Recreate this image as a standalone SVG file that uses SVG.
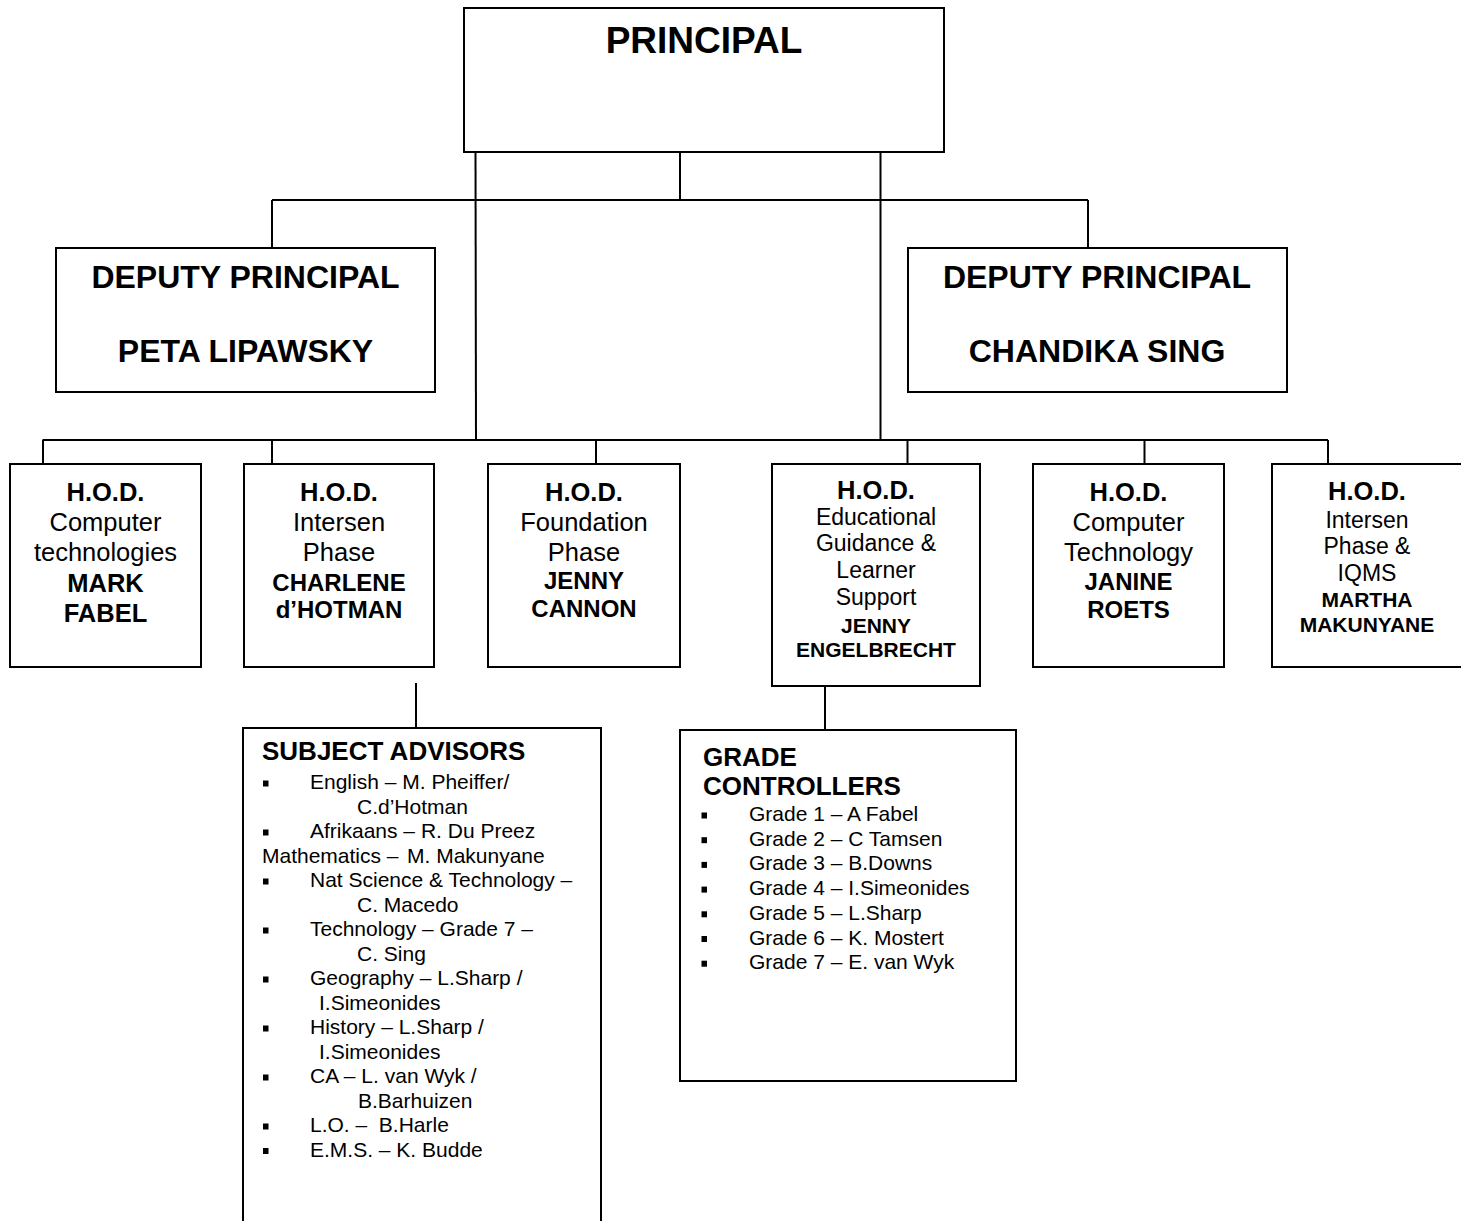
<svg xmlns="http://www.w3.org/2000/svg" width="1461" height="1221" viewBox="0 0 1461 1221">
<style>
  .box { fill: #ffffff; stroke: #000000; stroke-width: 2; }
  .conn line { stroke: #000000; stroke-width: 2; }
  text { font-family: "Liberation Sans", Arial, sans-serif; fill: #000000; }
  .c { text-anchor: middle; }
  .b { font-weight: bold; }
  .top { font-size: 37px; font-weight: bold; }
  .dep { font-size: 32px; font-weight: bold; }
  .h { font-size: 25.5px; }
  .hs { font-size: 23px; }
  .ns { font-size: 21px; }
  .n { font-size: 24px; }
  .title { font-size: 26px; font-weight: bold; }
  .li { font-size: 21px; }
  .bul { fill: #000000; }
</style>
<rect x="0" y="0" width="1461" height="1221" fill="#ffffff"/>

<g id="connectors" class="conn">
  <line x1="680" y1="152" x2="680" y2="200"/>
  <line x1="272" y1="200" x2="1088" y2="200"/>
  <line x1="272" y1="200" x2="272" y2="248"/>
  <line x1="1088" y1="200" x2="1088" y2="248"/>
  <line x1="475.5" y1="152" x2="476" y2="440"/>
  <line x1="880.5" y1="152" x2="880.5" y2="440"/>
  <line x1="42.5" y1="440" x2="1328" y2="440"/>
  <line x1="43" y1="440" x2="43" y2="464"/>
  <line x1="272" y1="440" x2="272" y2="464"/>
  <line x1="596" y1="440" x2="596" y2="464"/>
  <line x1="907.5" y1="440" x2="907.5" y2="464"/>
  <line x1="1144.5" y1="440" x2="1144.5" y2="464"/>
  <line x1="1328" y1="440" x2="1328" y2="464"/>
  <line x1="416" y1="683" x2="416" y2="728"/>
  <line x1="825" y1="686" x2="825" y2="730"/>
</g>

<g id="principal">
  <rect class="box" x="464" y="8" width="480" height="144"/>
  <text class="top c" x="704" y="53">PRINCIPAL</text>
</g>

<g id="deputy-left">
  <rect class="box" x="56" y="248" width="379" height="144"/>
  <text class="dep c" x="245.5" y="288">DEPUTY PRINCIPAL</text>
  <text class="dep c" x="245.5" y="362">PETA LIPAWSKY</text>
</g>

<g id="deputy-right">
  <rect class="box" x="908" y="248" width="379" height="144"/>
  <text class="dep c" x="1097" y="288">DEPUTY PRINCIPAL</text>
  <text class="dep c" x="1097" y="362">CHANDIKA SING</text>
</g>

<g id="hod-computer-technologies">
  <rect class="box" x="10" y="464" width="191" height="203"/>
  <text class="h b c" x="105.5" y="501">H.O.D.</text>
  <text class="h c" x="105.5" y="531">Computer</text>
  <text class="h c" x="105.5" y="561">technologies</text>
  <text class="h b c" x="105.5" y="592">MARK</text>
  <text class="h b c" x="105.5" y="622">FABEL</text>
</g>

<g id="hod-intersen">
  <rect class="box" x="244" y="464" width="190" height="203"/>
  <text class="h b c" x="339" y="501">H.O.D.</text>
  <text class="h c" x="339" y="531">Intersen</text>
  <text class="h c" x="339" y="561">Phase</text>
  <text class="n b c" x="339" y="591">CHARLENE</text>
  <text class="n b c" x="339" y="618">d’HOTMAN</text>
</g>

<g id="hod-foundation">
  <rect class="box" x="488" y="464" width="192" height="203"/>
  <text class="h b c" x="584" y="501">H.O.D.</text>
  <text class="h c" x="584" y="531">Foundation</text>
  <text class="h c" x="584" y="561">Phase</text>
  <text class="n b c" x="584" y="589">JENNY</text>
  <text class="n b c" x="584" y="617">CANNON</text>
</g>

<g id="hod-guidance">
  <rect class="box" x="772" y="464" width="208" height="222"/>
  <text class="h b c" x="876" y="499">H.O.D.</text>
  <text class="hs c" x="876" y="525">Educational</text>
  <text class="hs c" x="876" y="551">Guidance &amp;</text>
  <text class="hs c" x="876" y="578">Learner</text>
  <text class="hs c" x="876" y="605">Support</text>
  <text class="ns b c" x="876" y="633">JENNY</text>
  <text class="ns b c" x="876" y="657">ENGELBRECHT</text>
</g>

<g id="hod-computer-technology">
  <rect class="box" x="1033" y="464" width="191" height="203"/>
  <text class="h b c" x="1128.5" y="501">H.O.D.</text>
  <text class="h c" x="1128.5" y="531">Computer</text>
  <text class="h c" x="1128.5" y="561">Technology</text>
  <text class="n b c" x="1128.5" y="590">JANINE</text>
  <text class="n b c" x="1128.5" y="618">ROETS</text>
</g>

<g id="hod-intersen-iqms">
  <rect class="box" x="1272" y="464" width="192" height="203"/>
  <text class="h b c" x="1367" y="500">H.O.D.</text>
  <text class="hs c" x="1367" y="528">Intersen</text>
  <text class="hs c" x="1367" y="554">Phase &amp;</text>
  <text class="hs c" x="1367" y="581">IQMS</text>
  <text class="ns b c" x="1367" y="607">MARTHA</text>
  <text class="ns b c" x="1367" y="632">MAKUNYANE</text>
</g>

<g id="subject-advisors">
  <rect class="box" x="243" y="728" width="358" height="500"/>
  <text class="title" x="262" y="760">SUBJECT ADVISORS</text>
  <g class="bul">
    <rect x="263" y="780.5" width="5.5" height="6"/>
    <rect x="263" y="829.5" width="5.5" height="6"/>
    <rect x="263" y="878.5" width="5.5" height="6"/>
    <rect x="263" y="927.5" width="5.5" height="6"/>
    <rect x="263" y="976.5" width="5.5" height="6"/>
    <rect x="263" y="1025.5" width="5.5" height="6"/>
    <rect x="263" y="1074.5" width="5.5" height="6"/>
    <rect x="263" y="1123.5" width="5.5" height="6"/>
    <rect x="263" y="1148" width="5.5" height="6"/>
  </g>
  <text class="li" x="310" y="789">English – M. Pheiffer/</text>
  <text class="li" x="357" y="813.5">C.d’Hotman</text>
  <text class="li" x="310" y="838">Afrikaans – R. Du Preez</text>
  <text class="li" y="862.5"><tspan x="262">Mathematics –</tspan><tspan x="407">M. Makunyane</tspan></text>
  <text class="li" x="310" y="887">Nat Science &amp; Technology –</text>
  <text class="li" x="357" y="911.5">C. Macedo</text>
  <text class="li" x="310" y="936">Technology – Grade 7 –</text>
  <text class="li" x="357" y="960.5">C. Sing</text>
  <text class="li" x="310" y="985">Geography – L.Sharp /</text>
  <text class="li" x="319" y="1009.5">I.Simeonides</text>
  <text class="li" x="310" y="1034">History – L.Sharp /</text>
  <text class="li" x="319" y="1058.5">I.Simeonides</text>
  <text class="li" x="310" y="1083">CA – L. van Wyk /</text>
  <text class="li" x="358" y="1107.5">B.Barhuizen</text>
  <text class="li" x="310" y="1132" xml:space="preserve">L.O. –  B.Harle</text>
  <text class="li" x="310" y="1156.5">E.M.S. – K. Budde</text>
</g>

<g id="grade-controllers">
  <rect class="box" x="680" y="730" width="336" height="351"/>
  <text class="title" x="703" y="766">GRADE</text>
  <text class="title" x="703" y="795">CONTROLLERS</text>
  <g class="bul">
    <rect x="701.5" y="812.5" width="5.5" height="6"/>
    <rect x="701.5" y="837.2" width="5.5" height="6"/>
    <rect x="701.5" y="861.9" width="5.5" height="6"/>
    <rect x="701.5" y="886.6" width="5.5" height="6"/>
    <rect x="701.5" y="911.3" width="5.5" height="6"/>
    <rect x="701.5" y="936" width="5.5" height="6"/>
    <rect x="701.5" y="960.7" width="5.5" height="6"/>
  </g>
  <text class="li" x="749" y="821">Grade 1 – A Fabel</text>
  <text class="li" x="749" y="845.7">Grade 2 – C Tamsen</text>
  <text class="li" x="749" y="870.4">Grade 3 – B.Downs</text>
  <text class="li" x="749" y="895.1">Grade 4 – I.Simeonides</text>
  <text class="li" x="749" y="919.8">Grade 5 – L.Sharp</text>
  <text class="li" x="749" y="944.5">Grade 6 – K. Mostert</text>
  <text class="li" x="749" y="969.2">Grade 7 – E. van Wyk</text>
</g>
</svg>
